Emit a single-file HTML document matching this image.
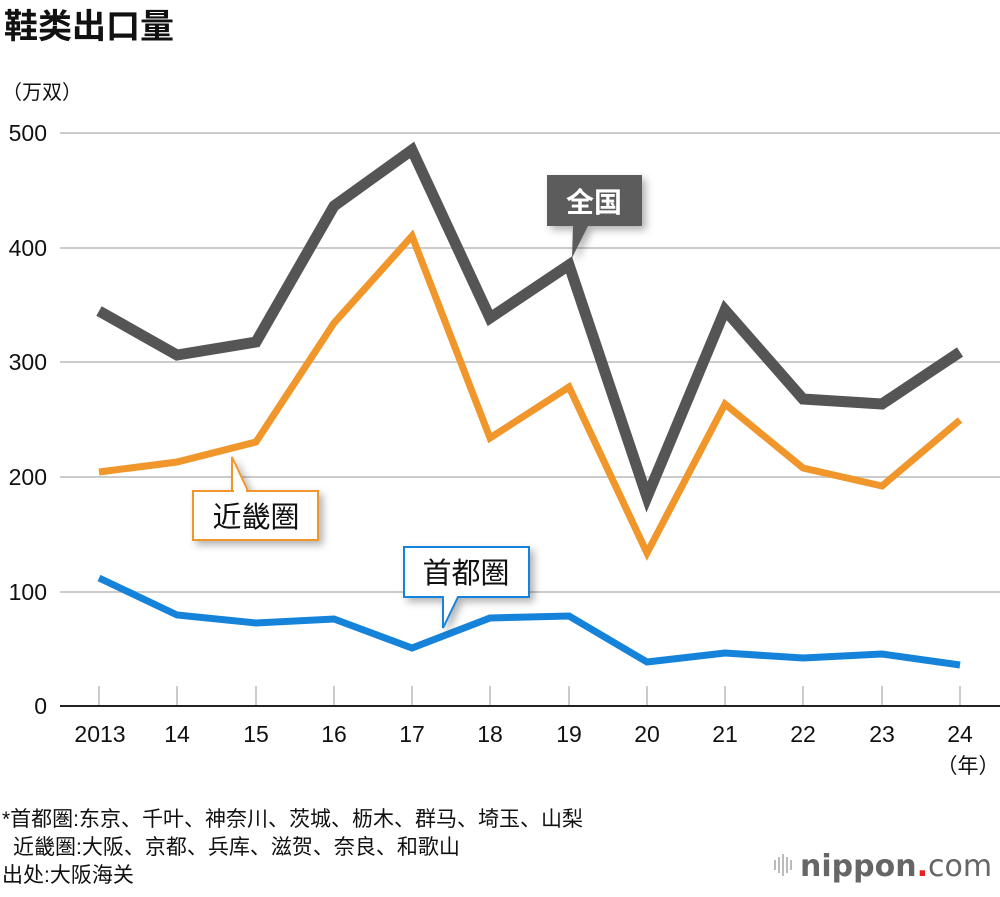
<!DOCTYPE html>
<html><head><meta charset="utf-8"><style>
html,body{margin:0;padding:0;background:#fff;}
body{width:1000px;height:892px;overflow:hidden;font-family:"Liberation Sans","Noto Sans CJK SC",sans-serif;}
</style></head><body>
<svg width="1000" height="892" xmlns="http://www.w3.org/2000/svg" font-family="Liberation Sans, Noto Sans CJK SC, sans-serif">
<defs>
<filter id="sh" x="-20%" y="-20%" width="150%" height="150%"><feDropShadow dx="4" dy="4" stdDeviation="4" flood-color="#000" flood-opacity="0.3"/></filter>
</defs>
<text x="4" y="38" font-size="34" font-weight="bold" fill="#111">鞋类出口量</text>
<text x="2" y="99" font-size="20" fill="#111">（万双）</text>
<g stroke="#ccc" stroke-width="2">
<line x1="60" y1="133" x2="1000" y2="133"/><line x1="60" y1="248" x2="1000" y2="248"/>
<line x1="60" y1="362" x2="1000" y2="362"/><line x1="60" y1="477" x2="1000" y2="477"/>
<line x1="60" y1="592" x2="1000" y2="592"/>
<line x1="99" y1="686" x2="99" y2="705"/><line x1="177" y1="686" x2="177" y2="705"/><line x1="256" y1="686" x2="256" y2="705"/><line x1="334" y1="686" x2="334" y2="705"/><line x1="412" y1="686" x2="412" y2="705"/><line x1="490" y1="686" x2="490" y2="705"/><line x1="569" y1="686" x2="569" y2="705"/><line x1="647" y1="686" x2="647" y2="705"/><line x1="725" y1="686" x2="725" y2="705"/><line x1="803" y1="686" x2="803" y2="705"/><line x1="882" y1="686" x2="882" y2="705"/><line x1="960" y1="686" x2="960" y2="705"/>
</g>
<line x1="60" y1="706" x2="1000" y2="706" stroke="#222" stroke-width="2"/>
<g font-size="23" fill="#111" text-anchor="end">
<text x="47" y="141">500</text><text x="47" y="256">400</text><text x="47" y="370">300</text><text x="47" y="485">200</text><text x="47" y="600">100</text><text x="47" y="714">0</text>
</g>
<g font-size="23" fill="#111" text-anchor="middle">
<text x="100" y="742">2013</text><text x="177" y="742">14</text><text x="256" y="742">15</text><text x="334" y="742">16</text><text x="412" y="742">17</text><text x="490" y="742">18</text><text x="569" y="742">19</text><text x="647" y="742">20</text><text x="725" y="742">21</text><text x="803" y="742">22</text><text x="882" y="742">23</text><text x="960" y="742">24</text>
<text x="968" y="773" font-size="21">（年）</text>
</g>
<g fill="none" stroke-linejoin="miter" stroke-linecap="butt">
<polyline stroke="#555" stroke-width="11" points="99,311 177,355 256,342 334,206 412,150 490,318 569,265 647,497 725,310 803,399 882,404 960,352"/>
<polyline stroke="#f0962a" stroke-width="7" points="99,472 177,462 256,442 334,323 412,236 490,438 569,387 647,553 725,404 803,468 882,486 960,420"/>
<polyline stroke="#1683db" stroke-width="7" points="99,578 177,615 256,623 334,619 412,648 490,618 569,616 647,662 725,653 803,658 882,654 960,665"/>
</g>
<g filter="url(#sh)"><path d="M547,175 H642 V226 H588 L572,258 L573,226 H547 Z" fill="#5b5b5b"/></g>
<text x="594" y="212" font-size="28" font-weight="bold" fill="#fff" text-anchor="middle">全国</text>
<g filter="url(#sh)"><path d="M193,491 H318 V540 H193 Z M232,491 L232,457 L248,491" fill="#fff" stroke="#f0962a" stroke-width="2"/></g>
<rect x="234" y="489" width="12" height="4" fill="#fff"/>
<text x="256" y="527" font-size="29" fill="#111" text-anchor="middle">近畿圏</text>
<g filter="url(#sh)"><path d="M404,547 H529 V597 H458 L443,628 L443,597 H404 Z" fill="#fff" stroke="#1683db" stroke-width="2"/></g>
<text x="466" y="583" font-size="29" fill="#111" text-anchor="middle">首都圏</text>
<g font-size="21" fill="#111">
<text x="2" y="826">*首都圏:东京、千叶、神奈川、茨城、枥木、群马、埼玉、山梨</text>
<text x="13" y="854">近畿圏:大阪、京都、兵库、滋贺、奈良、和歌山</text>
<text x="2" y="882">出处:大阪海关</text>
</g>
<g stroke="#bbb" stroke-width="2">
<line x1="775" y1="860" x2="775" y2="870"/><line x1="779" y1="857" x2="779" y2="873"/><line x1="783" y1="854" x2="783" y2="876"/><line x1="787" y1="857" x2="787" y2="873"/><line x1="791" y1="860" x2="791" y2="870"/>
</g>
<text x="800" y="876" font-size="30" fill="#666" font-family="DejaVu Sans, sans-serif" font-weight="bold">nippon<tspan fill="#e82020">.</tspan><tspan font-weight="normal">com</tspan></text>
</svg>
</body></html>
